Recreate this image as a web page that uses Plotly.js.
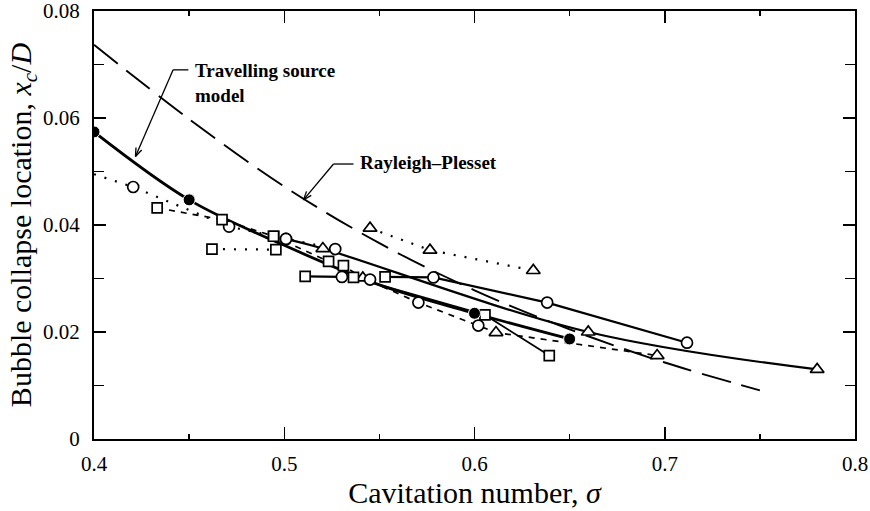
<!DOCTYPE html>
<html><head><meta charset="utf-8">
<script src="https://cdn.plot.ly/plotly-3.0.1.min.js"></script>
<style>html,body{margin:0;padding:0;background:#fff}#chart{width:870px;height:511px}</style>
</head><body><div id="chart"></div>
<script>
// ---- data ----
// axis tick labels
const xTickVals = [0.4, 0.5, 0.6, 0.7, 0.8];
const xTickText = ['0.4', '0.5', '0.6', '0.7', '0.8'];
const yTickVals = [0, 0.02, 0.04, 0.06, 0.08];
const yTickText = ['0', '0.02', '0.04', '0.06', '0.08'];
// Travelling source model (solid, filled circles)
const tsX = [0.4, 0.45, 0.5, 0.55, 0.6, 0.65];
const tsY = [0.0574, 0.0447, 0.0362, 0.0288, 0.0235, 0.0187];
const tsShow = [1, 1, 0, 0, 1, 1];
// Rayleigh-Plesset (long dash)
const rpX = [0.4, 0.45, 0.5, 0.55, 0.6, 0.65, 0.7, 0.75];
const rpY = [0.0737, 0.0598, 0.0472, 0.0366, 0.0278, 0.0205, 0.0143, 0.0091];
// dotted, triangles (upper)
const dtX = [0.5451, 0.5766, 0.6309];
const dtY = [0.0394, 0.0353, 0.0315];
const dtS = ['t', 't', 't'];
// dotted, circles
const dcX = [0.4, 0.4206, 0.471, 0.4944, 0.5009, 0.5268];
const dcY = [0.0495, 0.0471, 0.0397, 0.0379, 0.0374, 0.0355];
const dcS = ['n', 'c', 'c', 's', 'c', 'c'];
// dotted, squares
const dsX = [0.462, 0.4956];
const dsY = [0.0355, 0.0354];
const dsS = ['s', 's'];
// short dash, mixed symbols
const sdX = [0.4332, 0.4673, 0.4944, 0.5233, 0.5311, 0.5413, 0.5705, 0.6113, 0.696];
const sdY = [0.0432, 0.0410, 0.0379, 0.0332, 0.0324, 0.0301, 0.0255, 0.0199, 0.0156];
const sdS = ['s', 's', 's', 's', 's', 't', 'c', 't', 't'];
// solid runs
const aX = [0.511, 0.5303];
const aY = [0.0304, 0.0303];
const aS = ['s', 'c'];
const bX = [0.553, 0.5784, 0.6382, 0.7117];
const bY = [0.0303, 0.0302, 0.0255, 0.0180];
const bS = ['s', 'c', 'c', 'c'];
const cX = [0.5009, 0.5203, 0.6598, 0.7801];
const cY = [0.0374, 0.0356, 0.0200, 0.0130];
const cS = ['c', 't', 't', 't'];
const dX = [0.5364, 0.6055, 0.6393];
const dY = [0.0302, 0.0232, 0.0156];
const dS = ['s', 's', 's'];
// isolated points
const eX = [0.5451, 0.602];
const eY = [0.0298, 0.0212];
const eS = ['c', 'c'];

// ---- build ----
const symMap = {c: 'circle', s: 'square', t: 'triangle-up', n: 'circle'};
const sizeMap = {c: 11, s: 10, t: 12, n: 0};
const serif = 'Liberation Serif';

function lineTrace(x, y, dash, width, shape) {
  return {x, y, type: 'scatter', mode: 'lines', hoverinfo: 'skip',
    line: {color: '#000', width, dash, shape: shape || 'linear'}};
}
function markTrace(x, y, s) {
  return {x, y, type: 'scatter', mode: 'markers', hoverinfo: 'skip',
    marker: {symbol: s.map(k => symMap[k]), size: s.map(k => sizeMap[k]), opacity: 1,
      color: '#fff', line: {color: '#000', width: 1.7}}};
}

const traces = [
  lineTrace(rpX, rpY, '30px,11px', 1.9, 'spline'),
  lineTrace(dtX, dtY, '2px,9px', 2.2),
  lineTrace(dcX, dcY, '2px,9px', 2.2),
  lineTrace(dsX, dsY, '2px,9px', 2.2),
  lineTrace(sdX, sdY, '6px,6px', 1.7),
  lineTrace(aX, aY, 'solid', 2.2),
  lineTrace(bX, bY, 'solid', 2.2),
  lineTrace(cX, cY, 'solid', 2.2, 'spline'),
  lineTrace(dX, dY, 'solid', 1.8),
  lineTrace(tsX, tsY, 'solid', 2.8, 'spline'),
  markTrace(dtX, dtY, dtS),
  markTrace(dcX, dcY, dcS),
  markTrace(dsX, dsY, dsS),
  markTrace(sdX, sdY, sdS),
  markTrace(aX, aY, aS),
  markTrace(bX, bY, bS),
  markTrace(cX, cY, cS),
  markTrace(dX, dY, dS),
  markTrace(eX, eY, eS),
  {x: tsX, y: tsY, type: 'scatter', mode: 'markers', hoverinfo: 'skip',
    marker: {symbol: 'circle', size: tsShow.map(v => v ? 12 : 0), opacity: 1, color: '#000'}}
];

// leader lines with open arrowheads (annotation geometry, in axis units)
const PXX = 761.5 / 0.4, PXY = 428.5 / 0.08;
function leader(tipX, tipY, tailX, tailY, endX) {
  const dx = (tailX - tipX) * PXX, dy = (tailY - tipY) * PXY;
  const L = Math.hypot(dx, dy), ux = dx / L, uy = dy / L;
  const hl = 9, ang = 0.35;
  const out = [
    {x0: tailX, y0: tailY, x1: endX, y1: tailY},
    {x0: tipX, y0: tipY, x1: tailX, y1: tailY}
  ];
  [ang, -ang].forEach(a => {
    const rx = ux * Math.cos(a) - uy * Math.sin(a);
    const ry = ux * Math.sin(a) + uy * Math.cos(a);
    out.push({x0: tipX, y0: tipY, x1: tipX + rx * hl / PXX, y1: tipY + ry * hl / PXY});
  });
  return out.map(s => Object.assign({type: 'line', xref: 'x', yref: 'y', line: {color: '#000', width: 1.3}}, s));
}

const layout = {
  width: 870, height: 511,
  margin: {l: 93.5, r: 15, t: 11, b: 71.5},
  paper_bgcolor: '#fff', plot_bgcolor: '#fff',
  showlegend: false,
  font: {family: serif, color: '#000'},
  xaxis: {
    range: [0.4, 0.8], tickmode: 'array', tickvals: xTickVals, ticktext: xTickText,
    ticks: 'inside', ticklen: 12, tickwidth: 1.5, tickcolor: '#000',
    minor: {tickmode: 'linear', dtick: 0.05, tick0: 0.4, ticks: 'inside', ticklen: 5, tickwidth: 1.5, tickcolor: '#000'},
    showline: true, linewidth: 2, linecolor: '#000', mirror: 'ticks',
    showgrid: false, zeroline: false, ticklabeloverflow: 'allow',
    tickfont: {family: serif, size: 21}, ticklabelstandoff: 5,
    title: {text: 'Cavitation number, <i>σ</i>', font: {family: serif, size: 30}, standoff: 3}
  },
  yaxis: {
    range: [0, 0.08], tickmode: 'array', tickvals: yTickVals, ticktext: yTickText,
    ticks: 'inside', ticklen: 12, tickwidth: 1.5, tickcolor: '#000',
    minor: {tickmode: 'linear', dtick: 0.01, tick0: 0, ticks: 'inside', ticklen: 10, tickwidth: 1.5, tickcolor: '#000'},
    showline: true, linewidth: 2, linecolor: '#000', mirror: 'ticks',
    showgrid: false, zeroline: false, ticklabeloverflow: 'allow',
    tickfont: {family: serif, size: 21}, ticklabelstandoff: 8,
    title: {text: 'Bubble collapse location, <i>x<sub>c</sub></i>/<i>D</i>', font: {family: serif, size: 30}, standoff: 3}
  },
  annotations: [
    {x: 0.4522, y: 0.0666, xref: 'x', yref: 'y', xanchor: 'left', yanchor: 'middle', align: 'left',
      text: '<b>Travelling source<br>model</b>', showarrow: false, font: {family: serif, size: 19}},
    {x: 0.539, y: 0.0516, xref: 'x', yref: 'y', xanchor: 'left', yanchor: 'middle',
      text: '<b>Rayleigh–Plesset</b>', showarrow: false, font: {family: serif, size: 19}}
  ],
  shapes: [].concat(
    leader(0.4218, 0.0528, 0.4416, 0.069, 0.4496),
    leader(0.5101, 0.0447, 0.5259, 0.0514, 0.5364)
  )
};

Plotly.newPlot('chart', traces, layout, {staticPlot: true, displayModeBar: false});
</script></body></html>
